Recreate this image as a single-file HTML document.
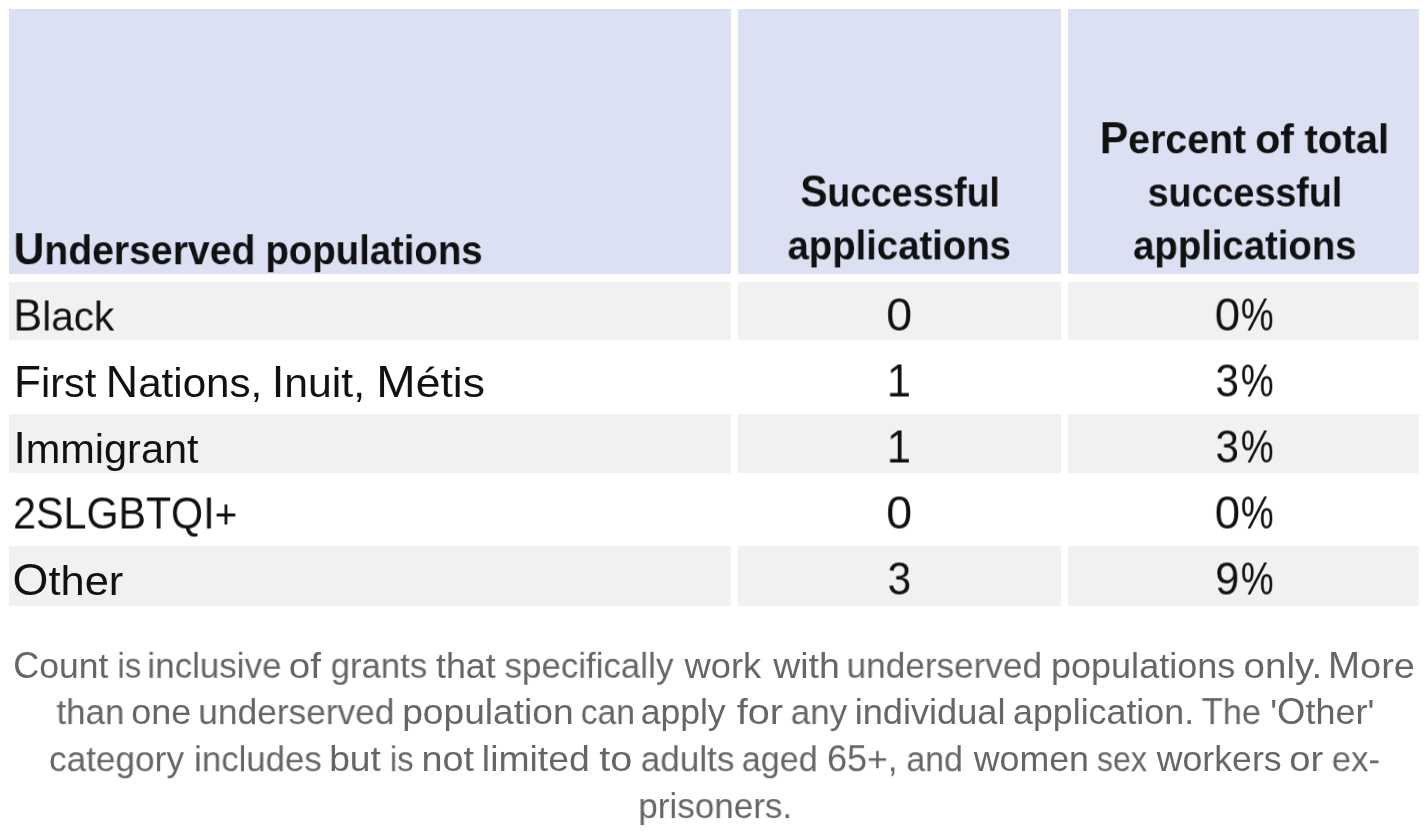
<!DOCTYPE html>
<html lang="en"><head><meta charset="utf-8"><title>Table</title>
<style>
html,body{margin:0;padding:0;background:#fff;}
body{width:1428px;height:840px;position:relative;overflow:hidden;font-family:"Liberation Sans",sans-serif;}
.c{position:absolute;}
.t{position:absolute;left:0;top:0;white-space:nowrap;line-height:0;transform-origin:0 0;will-change:transform;}
.h{font-size:41.5px;color:#111111;font-weight:bold;}
.h .u{font-size:45.1px;}
.b{font-size:41.5px;color:#111111;}
.b .u{font-size:44.1px;}
.f{font-size:35.5px;color:#666666;}
.f .u{font-size:36.0px;}
.d{font-size:47px;color:#111111;}
</style></head><body>
<div class="c" style="left:9.00px;top:8.60px;width:721.50px;height:265.90px;background:#dbe0f3"></div>
<div class="c" style="left:738.00px;top:8.60px;width:322.80px;height:265.90px;background:#dbe0f3"></div>
<div class="c" style="left:1068.00px;top:8.60px;width:351.40px;height:265.90px;background:#dbe0f3"></div>
<div class="c" style="left:9.00px;top:282.10px;width:721.50px;height:58.30px;background:#f1f1f1"></div>
<div class="c" style="left:738.00px;top:282.10px;width:322.80px;height:58.30px;background:#f1f1f1"></div>
<div class="c" style="left:1068.00px;top:282.10px;width:351.40px;height:58.30px;background:#f1f1f1"></div>
<div class="c" style="left:9.00px;top:414.00px;width:721.50px;height:58.90px;background:#f1f1f1"></div>
<div class="c" style="left:738.00px;top:414.00px;width:322.80px;height:58.90px;background:#f1f1f1"></div>
<div class="c" style="left:1068.00px;top:414.00px;width:351.40px;height:58.90px;background:#f1f1f1"></div>
<div class="c" style="left:9.00px;top:546.20px;width:721.50px;height:59.60px;background:#f1f1f1"></div>
<div class="c" style="left:738.00px;top:546.20px;width:322.80px;height:59.60px;background:#f1f1f1"></div>
<div class="c" style="left:1068.00px;top:546.20px;width:351.40px;height:59.60px;background:#f1f1f1"></div>
<div class="t h" style="transform:translate(13.61px,249.20px) scaleX(0.9432)"><span class="u">U</span>nderserved</div>
<div class="t h" style="transform:translate(265.46px,249.20px) scaleX(0.9235)"><span class="u"></span>populations</div>
<div class="t h" style="transform:translate(800.37px,191.50px) scaleX(0.9003)"><span class="u">S</span>uccessful</div>
<div class="t h" style="transform:translate(787.55px,244.40px) scaleX(0.9225)"><span class="u"></span>applications</div>
<div class="t h" style="transform:translate(1099.76px,138.20px) scaleX(0.9464)"><span class="u">P</span>ercent</div>
<div class="t h" style="transform:translate(1255.27px,138.20px) scaleX(0.9867)"><span class="u"></span>of</div>
<div class="t h" style="transform:translate(1304.52px,138.20px) scaleX(0.9662)"><span class="u"></span>total</div>
<div class="t h" style="transform:translate(1147.64px,191.50px) scaleX(0.9071)"><span class="u"></span>successful</div>
<div class="t h" style="transform:translate(1133.15px,244.40px) scaleX(0.9225)"><span class="u"></span>applications</div>
<div class="t b" style="transform:translate(13.38px,315.50px) scaleX(0.9764)"><span class="u">B</span>lack</div>
<div class="t b" style="transform:translate(14.00px,381.50px) scaleX(1.0000)"><span class="u">F</span>irst</div>
<div class="t b" style="transform:translate(105.85px,381.50px) scaleX(1.0147)"><span class="u">N</span>ations,</div>
<div class="t b" style="transform:translate(271.68px,381.50px) scaleX(1.0289)"><span class="u">I</span>nuit,</div>
<div class="t b" style="transform:translate(376.35px,381.50px) scaleX(1.0722)"><span class="u">M</span>étis</div>
<div class="t b" style="transform:translate(13.40px,447.50px) scaleX(1.0000)"><span class="u">I</span>mmigrant</div>
<div class="t b" style="transform:translate(13.10px,513.50px) scaleX(0.9342)"><span class="u">2SLGBTQI</span>+</div>
<div class="t b" style="transform:translate(12.51px,579.50px) scaleX(1.0470)"><span class="u">O</span>ther</div>
<div class="t d" style="transform:translate(886.27px,314.50px) scaleX(0.9911)">0</div>
<div class="t d" style="transform:translate(1214.70px,314.50px) scaleX(0.9733)">0</div>
<div class="t d" style="transform:translate(1240.82px,314.50px) scaleX(0.7869)">%</div>
<div class="t d" style="transform:translate(886.77px,380.50px) scaleX(0.9235)">1</div>
<div class="t d" style="transform:translate(1215.53px,380.50px) scaleX(0.8944)">3</div>
<div class="t d" style="transform:translate(1240.82px,380.50px) scaleX(0.7869)">%</div>
<div class="t d" style="transform:translate(886.77px,446.50px) scaleX(0.9235)">1</div>
<div class="t d" style="transform:translate(1215.53px,446.50px) scaleX(0.8944)">3</div>
<div class="t d" style="transform:translate(1240.82px,446.50px) scaleX(0.7869)">%</div>
<div class="t d" style="transform:translate(886.27px,512.50px) scaleX(0.9911)">0</div>
<div class="t d" style="transform:translate(1214.70px,512.50px) scaleX(0.9733)">0</div>
<div class="t d" style="transform:translate(1240.82px,512.50px) scaleX(0.7869)">%</div>
<div class="t d" style="transform:translate(887.63px,578.50px) scaleX(0.8989)">3</div>
<div class="t d" style="transform:translate(1215.23px,578.50px) scaleX(0.9195)">9</div>
<div class="t d" style="transform:translate(1240.82px,578.50px) scaleX(0.7869)">%</div>
<div class="t f" style="transform:translate(13.25px,665.80px) scaleX(1.0000)"><span class="u">C</span>ount</div>
<div class="t f" style="transform:translate(117.50px,665.80px) scaleX(0.9195)"><span class="u"></span>is</div>
<div class="t f" style="transform:translate(147.34px,665.80px) scaleX(0.9848)"><span class="u"></span>inclusive</div>
<div class="t f" style="transform:translate(288.87px,665.80px) scaleX(1.0867)"><span class="u"></span>of</div>
<div class="t f" style="transform:translate(330.73px,665.80px) scaleX(0.9771)"><span class="u"></span>grants</div>
<div class="t f" style="transform:translate(436.00px,665.80px) scaleX(1.0085)"><span class="u"></span>that</div>
<div class="t f" style="transform:translate(504.52px,665.80px) scaleX(0.9836)"><span class="u"></span>specifically</div>
<div class="t f" style="transform:translate(684.50px,665.80px) scaleX(1.0227)"><span class="u"></span>work</div>
<div class="t f" style="transform:translate(773.20px,665.80px) scaleX(1.0535)"><span class="u"></span>with</div>
<div class="t f" style="transform:translate(846.57px,665.80px) scaleX(0.9909)"><span class="u"></span>underserved</div>
<div class="t f" style="transform:translate(1050.91px,665.80px) scaleX(1.0157)"><span class="u"></span>populations</div>
<div class="t f" style="transform:translate(1243.57px,665.80px) scaleX(1.0859)"><span class="u"></span>only.</div>
<div class="t f" style="transform:translate(1327.99px,665.80px) scaleX(1.0684)"><span class="u">M</span>ore</div>
<div class="t f" style="transform:translate(56.51px,712.10px) scaleX(0.9842)"><span class="u"></span>than</div>
<div class="t f" style="transform:translate(131.28px,712.10px) scaleX(1.0133)"><span class="u"></span>one</div>
<div class="t f" style="transform:translate(198.26px,712.10px) scaleX(0.9946)"><span class="u"></span>underserved</div>
<div class="t f" style="transform:translate(402.14px,712.10px) scaleX(1.0468)"><span class="u"></span>population</div>
<div class="t f" style="transform:translate(580.78px,712.10px) scaleX(0.9458)"><span class="u"></span>can</div>
<div class="t f" style="transform:translate(640.70px,712.10px) scaleX(1.0006)"><span class="u"></span>apply</div>
<div class="t f" style="transform:translate(736.64px,712.10px) scaleX(1.1180)"><span class="u"></span>for</div>
<div class="t f" style="transform:translate(790.72px,712.10px) scaleX(0.9865)"><span class="u"></span>any</div>
<div class="t f" style="transform:translate(854.65px,712.10px) scaleX(1.0192)"><span class="u"></span>individual</div>
<div class="t f" style="transform:translate(1012.99px,712.10px) scaleX(1.0083)"><span class="u"></span>application.</div>
<div class="t f" style="transform:translate(1201.58px,712.10px) scaleX(0.9654)"><span class="u">T</span>he</div>
<div class="t f" style="transform:translate(1270.23px,712.10px) scaleX(1.0126)">'<span class="u">O</span>ther'</div>
<div class="t f" style="transform:translate(49.01px,759.20px) scaleX(0.9911)"><span class="u"></span>category</div>
<div class="t f" style="transform:translate(194.05px,759.20px) scaleX(0.9802)"><span class="u"></span>includes</div>
<div class="t f" style="transform:translate(329.14px,759.20px) scaleX(1.0481)"><span class="u"></span>but</div>
<div class="t f" style="transform:translate(389.90px,759.20px) scaleX(0.9195)"><span class="u"></span>is</div>
<div class="t f" style="transform:translate(421.41px,759.20px) scaleX(1.0631)"><span class="u"></span>not</div>
<div class="t f" style="transform:translate(481.87px,759.20px) scaleX(1.0506)"><span class="u"></span>limited</div>
<div class="t f" style="transform:translate(599.24px,759.20px) scaleX(1.1164)"><span class="u"></span>to</div>
<div class="t f" style="transform:translate(640.72px,759.20px) scaleX(0.9891)"><span class="u"></span>adults</div>
<div class="t f" style="transform:translate(741.76px,759.20px) scaleX(0.9608)"><span class="u"></span>aged</div>
<div class="t f" style="transform:translate(827.05px,759.20px) scaleX(0.9992)"><span class="u">65</span>+,</div>
<div class="t f" style="transform:translate(906.37px,759.20px) scaleX(0.9532)"><span class="u"></span>and</div>
<div class="t f" style="transform:translate(973.70px,759.20px) scaleX(1.0071)"><span class="u"></span>women</div>
<div class="t f" style="transform:translate(1096.89px,759.20px) scaleX(0.9060)"><span class="u"></span>sex</div>
<div class="t f" style="transform:translate(1156.80px,759.20px) scaleX(1.0041)"><span class="u"></span>workers</div>
<div class="t f" style="transform:translate(1289.19px,759.20px) scaleX(1.0746)"><span class="u"></span>or</div>
<div class="t f" style="transform:translate(1331.73px,759.20px) scaleX(0.9795)"><span class="u"></span>ex-</div>
<div class="t f" style="transform:translate(638.28px,806.10px) scaleX(0.9870)"><span class="u"></span>prisoners.</div>
</body></html>
